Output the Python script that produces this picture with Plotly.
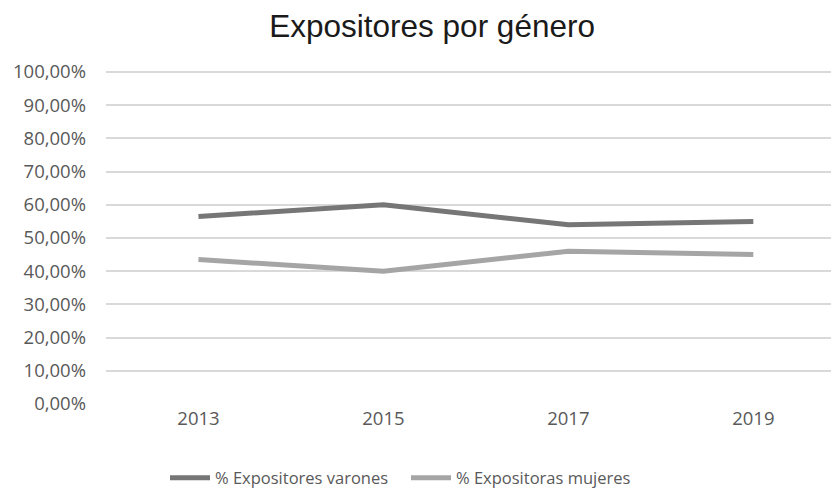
import plotly.graph_objects as go

years = ["2013", "2015", "2017", "2019"]
varones = [0.565, 0.600, 0.540, 0.550]
mujeres = [0.435, 0.400, 0.460, 0.450]
series_names = ["% Expositores varones", "% Expositoras mujeres"]
y_ticks = [i / 10 for i in range(11)]

fig = go.Figure()
fig.add_trace(go.Scatter(x=years, y=varones, mode="lines", name=series_names[0],
                         line=dict(color="#767676", width=5)))
fig.add_trace(go.Scatter(x=years, y=mujeres, mode="lines", name=series_names[1],
                         line=dict(color="#a5a5a5", width=5)))

tick_font = dict(family="Open Sans", size=18.5, color="#595959")
legend_font = dict(family="Open Sans", size=16.5, color="#595959")

fig.update_layout(
    width=831, height=491,
    margin=dict(l=106, r=0, t=68, b=86, autoexpand=False),
    paper_bgcolor="white", plot_bgcolor="white",
    separators=",.",
    title=dict(text="Expositores por género", x=0.52, xanchor="center",
               y=1 - 26 / 491, yanchor="middle", yref="container",
               font=dict(family="Liberation Sans, Arial", size=31.5, color="#1a1a1a")),
    xaxis=dict(type="category", range=[-0.5, 3.42], showgrid=False, showline=False,
               zeroline=False, tickfont=tick_font, ticks=""),
    yaxis=dict(range=[-0.003, 1.012], tickvals=y_ticks, tickformat=".2%", showgrid=True,
               gridcolor="#d9d9d9", gridwidth=1.5, zeroline=False, showline=False,
               tickfont=tick_font, ticklabelstandoff=19),
    legend=dict(orientation="h", xref="container", x=165 / 831, xanchor="left",
                y=(405 - 478) / 337, yanchor="middle", yref="paper", font=legend_font,
                itemwidth=40, entrywidth=186, entrywidthmode="pixels",
                bgcolor="rgba(0,0,0,0)"),
    showlegend=True,
)

fig.write_html("out.html", config={"displayModeBar": False},
               post_script="document.body.style.margin='0';")
